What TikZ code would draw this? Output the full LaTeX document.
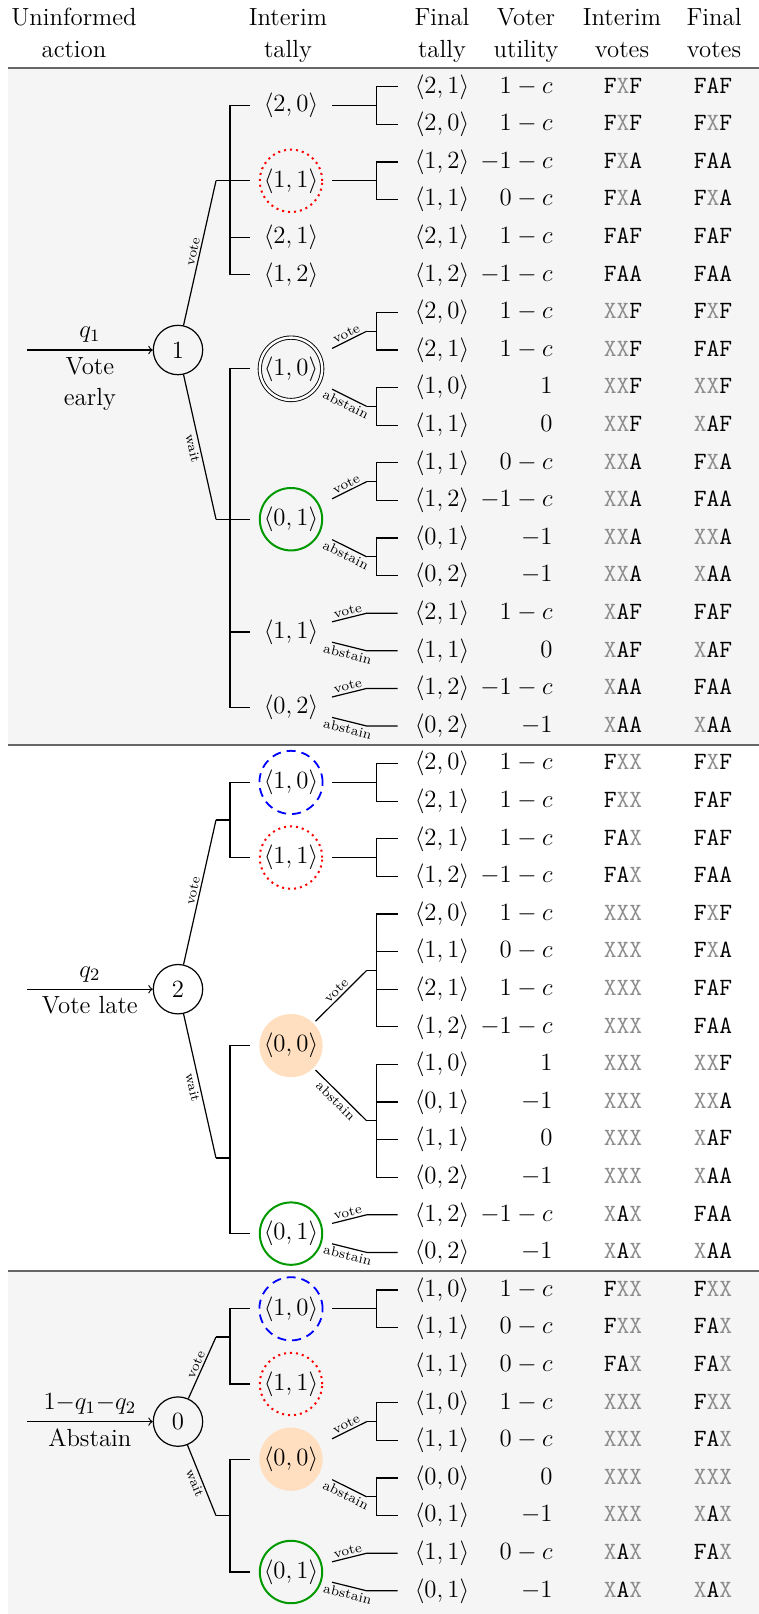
\RequirePackage{fix-cm}
\documentclass[tikz,border=0pt]{standalone}
\usetikzlibrary{calc}
\pgfdeclarelayer{background}
\pgfsetlayers{background,main}
\newcommand\bodyfont{\fontsize{12.4}{15.5}\selectfont}
\newcommand\headfont{\fontsize{12.4}{16}\selectfont}
\newcommand\labfont{\fontsize{6.8}{8}\selectfont}
\newcommand\gx{\textcolor{black!45}{X}}
\newcommand\trow[6]{%
  \node[leaf] (#1) at (442,#2) {$\langle #3\rangle$};
  \node[util] (#1u) at (553,#2) {$#4$};
  \node[votes] (#1i) at (623,#2) {\texttt{#5}};
  \node[votes] (#1f) at (713,#2) {\texttt{#6}};}
\newcommand\forkto[3]{\foreach \lf in {#3}{\draw[tree] (#1) -- (#2) |- (\lf.west);}}
\begin{document}
\begin{tikzpicture}[x=0.5pt,y=-0.5pt,
 tree/.style={line width=0.6pt},
 base/.style={inner sep=0pt, font=\bodyfont, text height=9.3pt, text depth=3.1pt},
 leaf/.style={base, minimum width=44pt},
 util/.style={base, anchor=east},
 votes/.style={base},
 inter/.style={base, minimum width=40.7pt, minimum height=24pt},
 root/.style={draw, circle, line width=0.6pt, minimum size=24.7pt, inner sep=0pt, font=\bodyfont},
 lab/.style={font=\labfont, inner sep=1pt},
 head/.style={font=\headfont, align=center, anchor=base},
 side/.style={font=\bodyfont, align=center},
 rulestyle/.style={draw=black!60, line width=0.9pt},
 ringred/.style={draw=red, dotted, line width=1pt},
 ringblue/.style={draw=blue, dash pattern=on 4.5pt off 3pt, line width=0.9pt},
 ringgreen/.style={draw=green!60!black, line width=1pt},
 ringdouble/.style={draw=black, double, double distance=1.2pt, line width=0.45pt},
 ringfill/.style={fill=orange!25},
]
\useasboundingbox (0,0) rectangle (759,1614);
% header
\node[head] (h1) at (74,57) {Uninformed\\action};
\node[head] (h2) at (288,57) {Interim\\tally};
\node[head] (h3) at (442,57) {Final\\tally};
\node[head] (h4) at (526,57) {Voter\\utility};
\node[head] (h5) at (622,57) {Interim\\votes};
\node[head] (h6) at (714,57) {Final\\votes};
% roots
\node[root] (n1) at (178,350) {1};
\node[root] (n2) at (178,989.2) {2};
\node[root] (n0) at (178,1421.6) {0};
\coordinate (s1) at (27,350);
\coordinate (s2) at (27,989.2);
\coordinate (s3) at (27,1421.6);
\draw[tree,->] (s1) -- node[side,above] (q1) {$q_1$} node[side,below] (t1) {Vote\\early} (n1);
\draw[tree,->] (s2) -- node[side,above] (q2) {$q_2$} node[side,below] (t2) {Vote late} (n2);
\draw[tree,->] (s3) -- node[side,above] (q3) {$1{-}q_1{-}q_2$} node[side,below] (t3) {Abstain} (n0);
% interim nodes
\node[inter] (a20) at (291,105.6) {$\langle 2,0\rangle$};
\node[inter] (a11) at (291,180.8) {$\langle 1,1\rangle$};
\node[inter] (a21) at (291,237.2) {$\langle 2,1\rangle$};
\node[inter] (a12) at (291,274.8) {$\langle 1,2\rangle$};
\node[inter] (b10) at (291,368.8) {$\langle 1,0\rangle$};
\node[inter] (b01) at (291,519.2) {$\langle 0,1\rangle$};
\node[inter] (b11) at (291,632) {$\langle 1,1\rangle$};
\node[inter] (b02) at (291,707.2) {$\langle 0,2\rangle$};
\node[inter] (c10) at (291,782.4) {$\langle 1,0\rangle$};
\node[inter] (c11) at (291,857.6) {$\langle 1,1\rangle$};
\node[inter] (d00) at (291,1045.6) {$\langle 0,0\rangle$};
\node[inter] (d01) at (291,1233.6) {$\langle 0,1\rangle$};
\node[inter] (e10) at (291,1308.8) {$\langle 1,0\rangle$};
\node[inter] (e11) at (291,1384) {$\langle 1,1\rangle$};
\node[inter] (f00) at (291,1459.2) {$\langle 0,0\rangle$};
\node[inter] (f01) at (291,1572) {$\langle 0,1\rangle$};
% bands, rules and filled discs behind everything
\begin{pgfonlayer}{background}
\fill[black!4] (8,68) rectangle (759,744.8);
\fill[black!4] (8,1271.2) rectangle (759,1614);
\draw[rulestyle] (8,68) -- (759,68);
\draw[rulestyle] (8,744.8) -- (759,744.8);
\draw[rulestyle] (8,1271.2) -- (759,1271.2);
\fill[ringfill] (d00.center) circle[radius=15.8pt];
\fill[ringfill] (f00.center) circle[radius=15.8pt];
\end{pgfonlayer}
% rings
\draw[ringred] (a11.center) circle[radius=15.6pt];
\draw[ringdouble] (b10.center) circle[radius=15.6pt];
\draw[ringgreen] (b01.center) circle[radius=15.6pt];
\draw[ringblue] (c10.center) circle[radius=15.8pt];
\draw[ringred] (c11.center) circle[radius=15.6pt];
\draw[ringgreen] (d01.center) circle[radius=15.6pt];
\draw[ringblue] (e10.center) circle[radius=15.8pt];
\draw[ringred] (e11.center) circle[radius=15.6pt];
\draw[ringgreen] (f01.center) circle[radius=15.6pt];
% rows section 1
\trow{ra1}{86.8}{2,1}{1-c}{F\gx F}{FAF}
\trow{ra2}{124.4}{2,0}{1-c}{F\gx F}{F\gx F}
\trow{ra3}{162}{1,2}{-1-c}{F\gx A}{FAA}
\trow{ra4}{199.6}{1,1}{0-c}{F\gx A}{F\gx A}
\trow{ra5}{237.2}{2,1}{1-c}{FAF}{FAF}
\trow{ra6}{274.8}{1,2}{-1-c}{FAA}{FAA}
\trow{ra7}{312.4}{2,0}{1-c}{\gx\gx F}{F\gx F}
\trow{ra8}{350}{2,1}{1-c}{\gx\gx F}{FAF}
\trow{ra9}{387.6}{1,0}{1}{\gx\gx F}{\gx\gx F}
\trow{ra10}{425.2}{1,1}{0}{\gx\gx F}{\gx AF}
\trow{ra11}{462.8}{1,1}{0-c}{\gx\gx A}{F\gx A}
\trow{ra12}{500.4}{1,2}{-1-c}{\gx\gx A}{FAA}
\trow{ra13}{538}{0,1}{-1}{\gx\gx A}{\gx\gx A}
\trow{ra14}{575.6}{0,2}{-1}{\gx\gx A}{\gx AA}
\trow{ra15}{613.2}{2,1}{1-c}{\gx AF}{FAF}
\trow{ra16}{650.8}{1,1}{0}{\gx AF}{\gx AF}
\trow{ra17}{688.4}{1,2}{-1-c}{\gx AA}{FAA}
\trow{ra18}{726}{0,2}{-1}{\gx AA}{\gx AA}
% rows section 2
\trow{rb1}{763.6}{2,0}{1-c}{F\gx\gx}{F\gx F}
\trow{rb2}{801.2}{2,1}{1-c}{F\gx\gx}{FAF}
\trow{rb3}{838.8}{2,1}{1-c}{FA\gx}{FAF}
\trow{rb4}{876.4}{1,2}{-1-c}{FA\gx}{FAA}
\trow{rb5}{914}{2,0}{1-c}{\gx\gx\gx}{F\gx F}
\trow{rb6}{951.6}{1,1}{0-c}{\gx\gx\gx}{F\gx A}
\trow{rb7}{989.2}{2,1}{1-c}{\gx\gx\gx}{FAF}
\trow{rb8}{1026.8}{1,2}{-1-c}{\gx\gx\gx}{FAA}
\trow{rb9}{1064.4}{1,0}{1}{\gx\gx\gx}{\gx\gx F}
\trow{rb10}{1102}{0,1}{-1}{\gx\gx\gx}{\gx\gx A}
\trow{rb11}{1139.6}{1,1}{0}{\gx\gx\gx}{\gx AF}
\trow{rb12}{1177.2}{0,2}{-1}{\gx\gx\gx}{\gx AA}
\trow{rb13}{1214.8}{1,2}{-1-c}{\gx A\gx}{FAA}
\trow{rb14}{1252.4}{0,2}{-1}{\gx A\gx}{\gx AA}
% rows section 3
\trow{rc1}{1290}{1,0}{1-c}{F\gx\gx}{F\gx\gx}
\trow{rc2}{1327.6}{1,1}{0-c}{F\gx\gx}{FA\gx}
\trow{rc3}{1365.2}{1,1}{0-c}{FA\gx}{FA\gx}
\trow{rc4}{1402.8}{1,0}{1-c}{\gx\gx\gx}{F\gx\gx}
\trow{rc5}{1440.4}{1,1}{0-c}{\gx\gx\gx}{FA\gx}
\trow{rc6}{1478}{0,0}{0}{\gx\gx\gx}{\gx\gx\gx}
\trow{rc7}{1515.6}{0,1}{-1}{\gx\gx\gx}{\gx A\gx}
\trow{rc8}{1553.2}{1,1}{0-c}{\gx A\gx}{FA\gx}
\trow{rc9}{1590.8}{0,1}{-1}{\gx A\gx}{\gx A\gx}
% root branches
\coordinate (jv1) at (216,180.8); \coordinate (fv1) at (230,180.8);
\coordinate (jw1) at (216,519.2); \coordinate (fw1) at (230,519.2);
\coordinate (jv2) at (216,820);   \coordinate (fv2) at (230,820);
\coordinate (jw2) at (216,1158);  \coordinate (fw2) at (230,1158);
\coordinate (jv3) at (216,1337);  \coordinate (fv3) at (230,1337);
\coordinate (jw3) at (216,1515.6);\coordinate (fw3) at (230,1515.6);
\draw[tree] (n1) -- node[lab,sloped,above] (lv1) {vote} (jv1);
\draw[tree] (n1) -- node[lab,sloped,below] (lw1) {wait} (jw1);
\draw[tree] (n2) -- node[lab,sloped,above] (lv2) {vote} (jv2);
\draw[tree] (n2) -- node[lab,sloped,below] (lw2) {wait} (jw2);
\draw[tree] (n0) -- node[lab,sloped,above] (lv3) {vote} (jv3);
\draw[tree] (n0) -- node[lab,sloped,below] (lw3) {wait} (jw3);
\forkto{jv1}{fv1}{a20,a11,a21,a12}
\forkto{jw1}{fw1}{b10,b01,b11,b02}
\forkto{jv2}{fv2}{c10,c11}
\forkto{jw2}{fw2}{d00,d01}
\forkto{jv3}{fv3}{e10,e11}
\forkto{jw3}{fw3}{f00,f01}
% plain second-level forks
\coordinate (ka20) at (376.7,105.6); \forkto{a20.east}{ka20}{ra1,ra2}
\coordinate (ka11) at (376.7,180.8); \forkto{a11.east}{ka11}{ra3,ra4}
\coordinate (kc10) at (376.7,782.4); \forkto{c10.east}{kc10}{rb1,rb2}
\coordinate (kc11) at (376.7,857.6); \forkto{c11.east}{kc11}{rb3,rb4}
\coordinate (ke10) at (376.7,1308.8); \forkto{e10.east}{ke10}{rc1,rc2}
% labelled second-level forks
\coordinate (vb10) at (366.7,331.2); \coordinate (kvb10) at (376.7,331.2);
\coordinate (ab10) at (366.7,406.4); \coordinate (kab10) at (376.7,406.4);
\draw[tree] (b10) -- node[lab,sloped,above] (lb10v) {vote} (vb10);
\draw[tree] (b10) -- node[lab,sloped,below] (lb10a) {abstain} (ab10);
\forkto{vb10}{kvb10}{ra7,ra8}
\forkto{ab10}{kab10}{ra9,ra10}
\coordinate (vb01) at (366.7,481.6); \coordinate (kvb01) at (376.7,481.6);
\coordinate (ab01) at (366.7,556.8); \coordinate (kab01) at (376.7,556.8);
\draw[tree] (b01) -- node[lab,sloped,above] (lb01v) {vote} (vb01);
\draw[tree] (b01) -- node[lab,sloped,below] (lb01a) {abstain} (ab01);
\forkto{vb01}{kvb01}{ra11,ra12}
\forkto{ab01}{kab01}{ra13,ra14}
\coordinate (vb11) at (366.7,613.2); \coordinate (ab11) at (366.7,650.8);
\draw[tree] (b11) -- node[lab,sloped,above] (lb11v) {vote} (vb11) -- (ra15.west);
\draw[tree] (b11) -- node[lab,sloped,below] (lb11a) {abstain} (ab11) -- (ra16.west);
\coordinate (vb02) at (366.7,688.4); \coordinate (ab02) at (366.7,726);
\draw[tree] (b02) -- node[lab,sloped,above] (lb02v) {vote} (vb02) -- (ra17.west);
\draw[tree] (b02) -- node[lab,sloped,below] (lb02a) {abstain} (ab02) -- (ra18.west);
\coordinate (vd00) at (366.7,970.4); \coordinate (kvd00) at (376.7,970.4);
\coordinate (ad00) at (366.7,1120.8); \coordinate (kad00) at (376.7,1120.8);
\draw[tree] (d00) -- node[lab,sloped,above] (ld00v) {vote} (vd00);
\draw[tree] (d00) -- node[lab,sloped,below] (ld00a) {abstain} (ad00);
\forkto{vd00}{kvd00}{rb5,rb6,rb7,rb8}
\forkto{ad00}{kad00}{rb9,rb10,rb11,rb12}
\coordinate (vd01) at (366.7,1214.8); \coordinate (ad01) at (366.7,1252.4);
\draw[tree] (d01) -- node[lab,sloped,above] (ld01v) {vote} (vd01) -- (rb13.west);
\draw[tree] (d01) -- node[lab,sloped,below] (ld01a) {abstain} (ad01) -- (rb14.west);
\coordinate (vf00) at (366.7,1421.6); \coordinate (kvf00) at (376.7,1421.6);
\coordinate (af00) at (366.7,1496.8); \coordinate (kaf00) at (376.7,1496.8);
\draw[tree] (f00) -- node[lab,sloped,above] (lf00v) {vote} (vf00);
\draw[tree] (f00) -- node[lab,sloped,below] (lf00a) {abstain} (af00);
\forkto{vf00}{kvf00}{rc4,rc5}
\forkto{af00}{kaf00}{rc6,rc7}
\coordinate (vf01) at (366.7,1553.2); \coordinate (af01) at (366.7,1590.8);
\draw[tree] (f01) -- node[lab,sloped,above] (lf01v) {vote} (vf01) -- (rc8.west);
\draw[tree] (f01) -- node[lab,sloped,below] (lf01a) {abstain} (af01) -- (rc9.west);
\end{tikzpicture}
\end{document}
